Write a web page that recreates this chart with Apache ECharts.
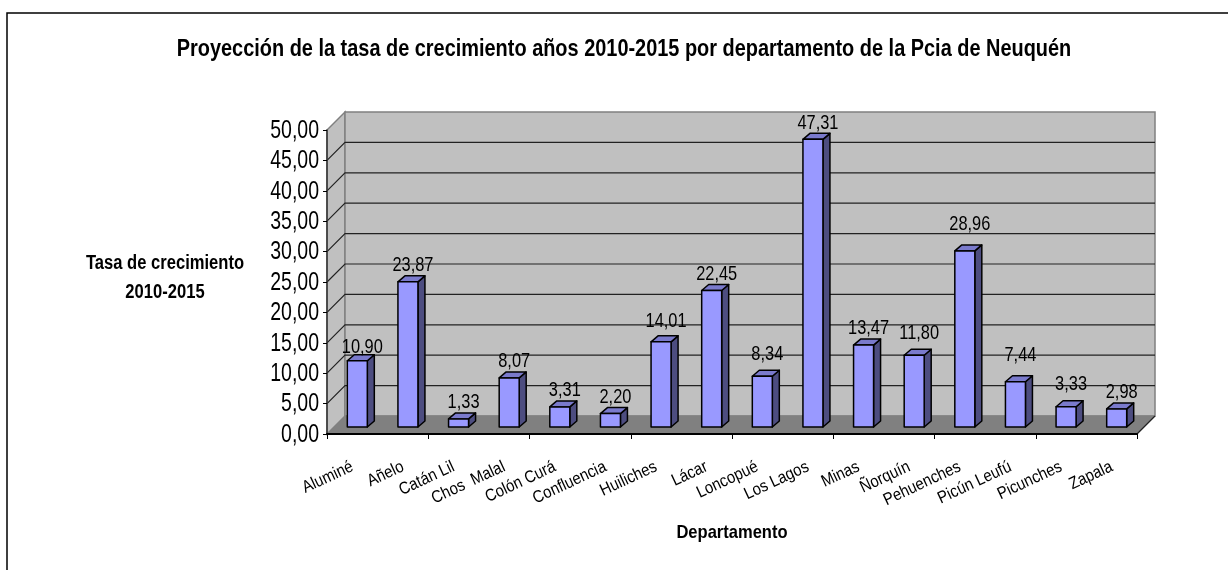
<!DOCTYPE html>
<html>
<head>
<meta charset="utf-8">
<style>html,body{margin:0;padding:0;background:#fff}#c{width:1228px;height:570px}</style>
<script src="https://cdn.jsdelivr.net/npm/echarts@6/dist/echarts.min.js"></script>
</head>
<body>
<div id="c"></div>
<script>
const categories = ['Aluminé','Añelo','Catán Lil','Chos  Malal','Colón Curá','Confluencia','Huiliches','Lácar','Loncopué','Los Lagos','Minas','Ñorquín','Pehuenches','Picún Leufú','Picunches','Zapala'];
const values = [10.90,23.87,1.33,8.07,3.31,2.20,14.01,22.45,8.34,47.31,13.47,11.80,28.96,7.44,3.33,2.98];
const yTicks = [0,5,10,15,20,25,30,35,40,45,50];
const titleText = 'Proyección de la tasa de crecimiento años 2010-2015 por departamento de la Pcia de Neuquén';
const yNameLines = ['Tasa de crecimiento','2010-2015'];
const xName = 'Departamento';

const FONT = '"Liberation Sans",Arial,sans-serif';
const DEPTH = 18, BAR_W = 20, BAR_DX = 5, BAR_DY = 7, BAR_DEPTH_X = 7, BAR_DEPTH_Y = 6;
// manual nudges of single value labels, as a spreadsheet had placed them
const LABEL_NUDGE = {0:3, 6:-4, 8:-6, 11:-6, 12:-10, 13:-10, 14:-6};
const fmt = v => v.toFixed(2).replace('.', ',');

function renderScene(params, api){
  const y0 = api.coord([0, 0])[1];
  const y50 = api.coord([0, 50])[1];
  const cs = params.coordSys;
  const xL = cs.x, xR = cs.x + cs.width;
  const children = [];
  const poly = (p, fill, stroke, w) => children.push({type:'polygon', shape:{points:p}, style:{fill, stroke, lineWidth:w}});
  poly([[xL,y0],[xL+DEPTH,y0-DEPTH],[xL+DEPTH,y50-DEPTH],[xL,y50]], '#c0c0c0', '#808080', 1.5);
  poly([[xL+DEPTH,y0-DEPTH],[xR+DEPTH,y0-DEPTH],[xR+DEPTH,y50-DEPTH],[xL+DEPTH,y50-DEPTH]], '#c0c0c0', '#808080', 1.5);
  poly([[xL,y0],[xR,y0],[xR+DEPTH,y0-DEPTH],[xL+DEPTH,y0-DEPTH]], '#808080', '#808080', 1);
  children.push({type:'line', shape:{x1:xR, y1:y0, x2:xR+DEPTH, y2:y0-DEPTH}, style:{stroke:'#222', lineWidth:1.2}});
  yTicks.forEach(t => {
    if (t === 0 || t === 50) return;
    const y = api.coord([0, t])[1];
    children.push({type:'polyline', shape:{points:[[xL,y],[xL+DEPTH,y-DEPTH],[xR+DEPTH,y-DEPTH]]}, style:{fill:'none', stroke:'#222', lineWidth:1.2}});
  });
  return {type:'group', children};
}

function renderBar(params, api){
  const i = api.value(0), v = api.value(1);
  const top = api.coord([i, v]);
  const base = api.coord([i, 0]);
  const x = top[0] - BAR_W/2 + BAR_DX, x2 = x + BAR_W;
  const yT = top[1] - BAR_DY, yB = base[1] - BAR_DY;
  const dx = BAR_DEPTH_X, dy = BAR_DEPTH_Y;
  const st = f => ({fill:f, stroke:'#000', lineWidth:1.5, lineJoin:'round'});
  return {type:'group', children:[
    {type:'polygon', shape:{points:[[x2,yT],[x2+dx,yT-dy],[x2+dx,yB-dy],[x2,yB]]}, style:st('#4d4d80')},
    {type:'polygon', shape:{points:[[x,yT],[x+dx,yT-dy],[x2+dx,yT-dy],[x2,yT]]}, style:st('#7a7acc')},
    {type:'rect', shape:{x:x, y:yT, width:BAR_W, height:yB-yT}, style:st('#9999ff')},
    {type:'text', x:x + BAR_W/2 + 5, y:yT - dy + (LABEL_NUDGE[i] || 0), scaleX:0.78, style:{text:fmt(v), font:'21px '+FONT, fill:'#000', align:'center', verticalAlign:'bottom'}}
  ]};
}

function renderYLabel(params, api){
  const t = api.value(0);
  const p = api.coord([0, t]);
  const cs = params.coordSys;
  return {type:'text', x:cs.x - 8, y:p[1] + 1, scaleX:0.78, style:{text:fmt(t), font:'25px '+FONT, fill:'#000', align:'right', verticalAlign:'middle'}};
}

function renderXLabel(params, api){
  const i = api.value(0);
  const p = api.coord([i, 0]);
  return {type:'text', x:p[0], y:p[1] + 32, rotation:25*Math.PI/180, scaleX:0.88, style:{text:categories[i], font:'17px '+FONT, fill:'#000', align:'right', verticalAlign:'middle'}};
}

const boldText = (text, x, y, size, sx) => ({type:'text', x, y, scaleX:sx, silent:true, z:10,
  style:{text, font:'bold '+size+'px '+FONT, fill:'#000', align:'center', verticalAlign:'middle'}});

const chart = echarts.init(document.getElementById('c'), null, {renderer:'canvas'});
chart.setOption({
  animation:false,
  backgroundColor:'#fff',
  grid:{left:327, right:91, top:130, bottom:136},
  xAxis:{type:'category', data:categories, boundaryGap:true, z:6,
    axisLine:{show:true, onZero:false, lineStyle:{color:'#000', width:2}},
    axisTick:{show:true, length:5, lineStyle:{color:'#000', width:1}},
    axisLabel:{show:false}},
  yAxis:{type:'value', min:0, max:50, interval:5, z:6,
    axisLine:{show:true, lineStyle:{color:'#333', width:1.5}},
    axisTick:{show:true, length:4, lineStyle:{color:'#000', width:1}},
    axisLabel:{show:false},
    splitLine:{show:false}},
  graphic:[
    {type:'polyline', silent:true, shape:{points:[[7,570],[7,13],[1228,13]]}, style:{fill:'none', stroke:'#000', lineWidth:1.5}},
    boldText(titleText, 624, 49, 24, 0.83),
    boldText(yNameLines[0], 165, 264, 19.5, 0.85),
    boldText(yNameLines[1], 165, 293, 19.5, 0.85),
    boldText(xName, 732, 533, 19, 0.87)
  ],
  series:[
    {type:'custom', name:'escena', coordinateSystem:'cartesian2d', data:[[0,0]], renderItem:renderScene, silent:true, z:1, clip:false},
    {type:'custom', name:'Tasa de crecimiento', coordinateSystem:'cartesian2d', z:3, clip:false,
      data:values.map((v,i)=>[i,v]), encode:{x:0,y:1}, renderItem:renderBar},
    {type:'custom', name:'etiquetas y', coordinateSystem:'cartesian2d', z:7, clip:false, silent:true,
      data:yTicks.map(t=>[t]), encode:{y:0}, renderItem:renderYLabel},
    {type:'custom', name:'etiquetas x', coordinateSystem:'cartesian2d', z:7, clip:false, silent:true,
      data:categories.map((c,i)=>[i]), encode:{x:0}, renderItem:renderXLabel}
  ]
});
</script>
</body>
</html>
